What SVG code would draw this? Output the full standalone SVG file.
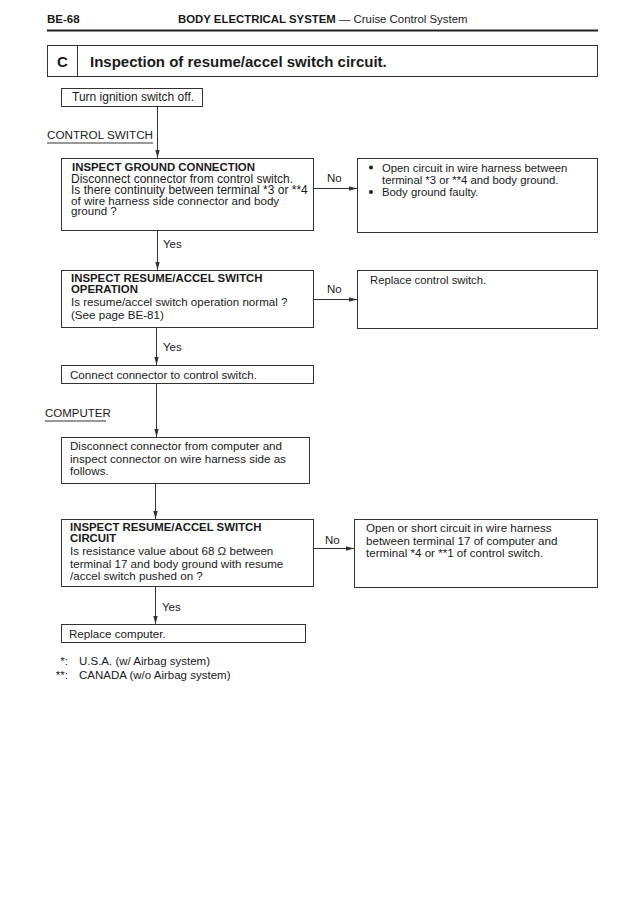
<svg xmlns="http://www.w3.org/2000/svg" width="640" height="904" viewBox="0 0 640 904">
<style>
text{font-family:"Liberation Sans",Arial,sans-serif;font-size:11.6px;fill:#1a1a1a}
.b{font-weight:bold;font-size:11.4px}
.s{font-size:11.5px}
.box{fill:none;stroke:#333;stroke-width:1}
.ln{stroke:#333;stroke-width:1;fill:none}
</style>
<defs>
<marker id="ah" viewBox="0 0 8 6" refX="8" refY="3" markerWidth="8" markerHeight="6" markerUnits="userSpaceOnUse" orient="auto">
<path d="M0,0.8 L8,3 L0,5.2 Z" fill="#333"/>
</marker>
</defs>
<rect width="640" height="904" fill="#fff"/>
<g id="header">
<text x="47" y="23" class="b" style="font-size:11.5px">BE-68</text>
<text x="178" y="23" style="font-size:11.4px"><tspan font-weight="bold">BODY ELECTRICAL SYSTEM</tspan> — Cruise Control System</text>
<line x1="47" y1="30.5" x2="598" y2="30.5" stroke="#222" stroke-width="2"/>
</g>
<g id="title">
<rect class="box" x="47.5" y="45.5" width="550" height="31"/>
<line class="ln" x1="77.5" y1="45.5" x2="77.5" y2="76.5"/>
<text x="62.5" y="66.5" style="font-size:15px;font-weight:bold" text-anchor="middle">C</text>
<text x="90" y="66.5" style="font-size:15px;font-weight:bold">Inspection of resume/accel switch circuit.</text>
</g>
<g id="labels">
<text x="47" y="139" class="s" style="font-size:11.7px">CONTROL SWITCH</text>
<line class="ln" x1="47" y1="143" x2="153" y2="143"/>
<text x="45" y="417" class="s">COMPUTER</text>
<line class="ln" x1="45" y1="421" x2="106" y2="421"/>
</g>
<g id="connectors">
<line class="ln" x1="157.5" y1="106" x2="157.5" y2="158" marker-end="url(#ah)"/>
<line class="ln" x1="157.5" y1="230" x2="157.5" y2="270" marker-end="url(#ah)"/>
<text x="163" y="248" class="s">Yes</text>
<line class="ln" x1="313" y1="188.5" x2="357" y2="188.5" marker-end="url(#ah)"/>
<text x="327" y="182" class="s">No</text>
<line class="ln" x1="313" y1="299.5" x2="357" y2="299.5" marker-end="url(#ah)"/>
<text x="327" y="293" class="s">No</text>
<line class="ln" x1="156.5" y1="328" x2="156.5" y2="365" marker-end="url(#ah)"/>
<text x="163" y="351" class="s">Yes</text>
<line class="ln" x1="156.5" y1="383" x2="156.5" y2="437" marker-end="url(#ah)"/>
<line class="ln" x1="155.5" y1="483" x2="155.5" y2="519" marker-end="url(#ah)"/>
<line class="ln" x1="313" y1="548.5" x2="354" y2="548.5" marker-end="url(#ah)"/>
<text x="325" y="544" class="s">No</text>
<line class="ln" x1="155.5" y1="587" x2="155.5" y2="624" marker-end="url(#ah)"/>
<text x="162" y="611" class="s">Yes</text>
</g>
<g id="n-turn">
<rect class="box" x="61.5" y="88.5" width="141" height="18"/>
<text x="72" y="101" style="font-size:12px">Turn ignition switch off.</text>
</g>
<g id="n-ground">
<rect class="box" x="61.5" y="158.5" width="252" height="72"/>
<text x="72" y="170.5" class="b">INSPECT GROUND CONNECTION</text>
<text x="71" y="182.5" style="font-size:12px">Disconnect connector from control switch.</text>
<text x="71" y="193.5" style="font-size:12px">Is there continuity between terminal *3 or **4</text>
<text x="71" y="204.5">of wire harness side connector and body</text>
<text x="71" y="215">ground ?</text>
</g>
<g id="n-open">
<rect class="box" x="357.5" y="158.5" width="240" height="74"/>
<circle cx="371" cy="167.5" r="2" fill="#222"/>
<text x="382" y="171.5" style="font-size:11.3px">Open circuit in wire harness between</text>
<text x="382" y="184" style="font-size:11.3px">terminal *3 or **4 and body ground.</text>
<circle cx="371" cy="192" r="2" fill="#222"/>
<text x="382" y="196" style="font-size:11.3px">Body ground faulty.</text>
</g>
<g id="n-operation">
<rect class="box" x="61.5" y="270.5" width="252" height="57"/>
<text x="71" y="282" class="b">INSPECT RESUME/ACCEL SWITCH</text>
<text x="71" y="293" class="b">OPERATION</text>
<text x="71" y="306">Is resume/accel switch operation normal ?</text>
<text x="71" y="319">(See page BE-81)</text>
</g>
<g id="n-replace-switch">
<rect class="box" x="357.5" y="270.5" width="240" height="58"/>
<text x="370" y="284" style="font-size:11.3px">Replace control switch.</text>
</g>
<g id="n-connect">
<rect class="box" x="61.5" y="365.5" width="252" height="18"/>
<text x="70" y="378.5">Connect connector to control switch.</text>
</g>
<g id="n-disconnect">
<rect class="box" x="61.5" y="437.5" width="248" height="46"/>
<text x="70" y="450">Disconnect connector from computer and</text>
<text x="70" y="463">inspect connector on wire harness side as</text>
<text x="70" y="475">follows.</text>
</g>
<g id="n-circuit">
<rect class="box" x="61.5" y="519.5" width="252" height="67"/>
<text x="70" y="530.5" class="b">INSPECT RESUME/ACCEL SWITCH</text>
<text x="70" y="541.5" class="b">CIRCUIT</text>
<text x="70" y="555">Is resistance value about 68 Ω between</text>
<text x="70" y="567.5">terminal 17 and body ground with resume</text>
<text x="70" y="580">/accel switch pushed on ?</text>
</g>
<g id="n-short">
<rect class="box" x="354.5" y="519.5" width="243" height="68"/>
<text x="366" y="532">Open or short circuit in wire harness</text>
<text x="366" y="544.5">between terminal 17 of computer and</text>
<text x="366" y="557">terminal *4 or **1 of control switch.</text>
</g>
<g id="n-replace-computer">
<rect class="box" x="61.5" y="624.5" width="244" height="18"/>
<text x="69" y="637.5">Replace computer.</text>
</g>
<g id="notes">
<text x="68" y="665" text-anchor="end" class="s">*:</text>
<text x="79" y="665" class="s">U.S.A. (w/ Airbag system)</text>
<text x="68" y="678.5" text-anchor="end" class="s">**:</text>
<text x="79" y="678.5" class="s">CANADA (w/o Airbag system)</text>
</g>
</svg>
